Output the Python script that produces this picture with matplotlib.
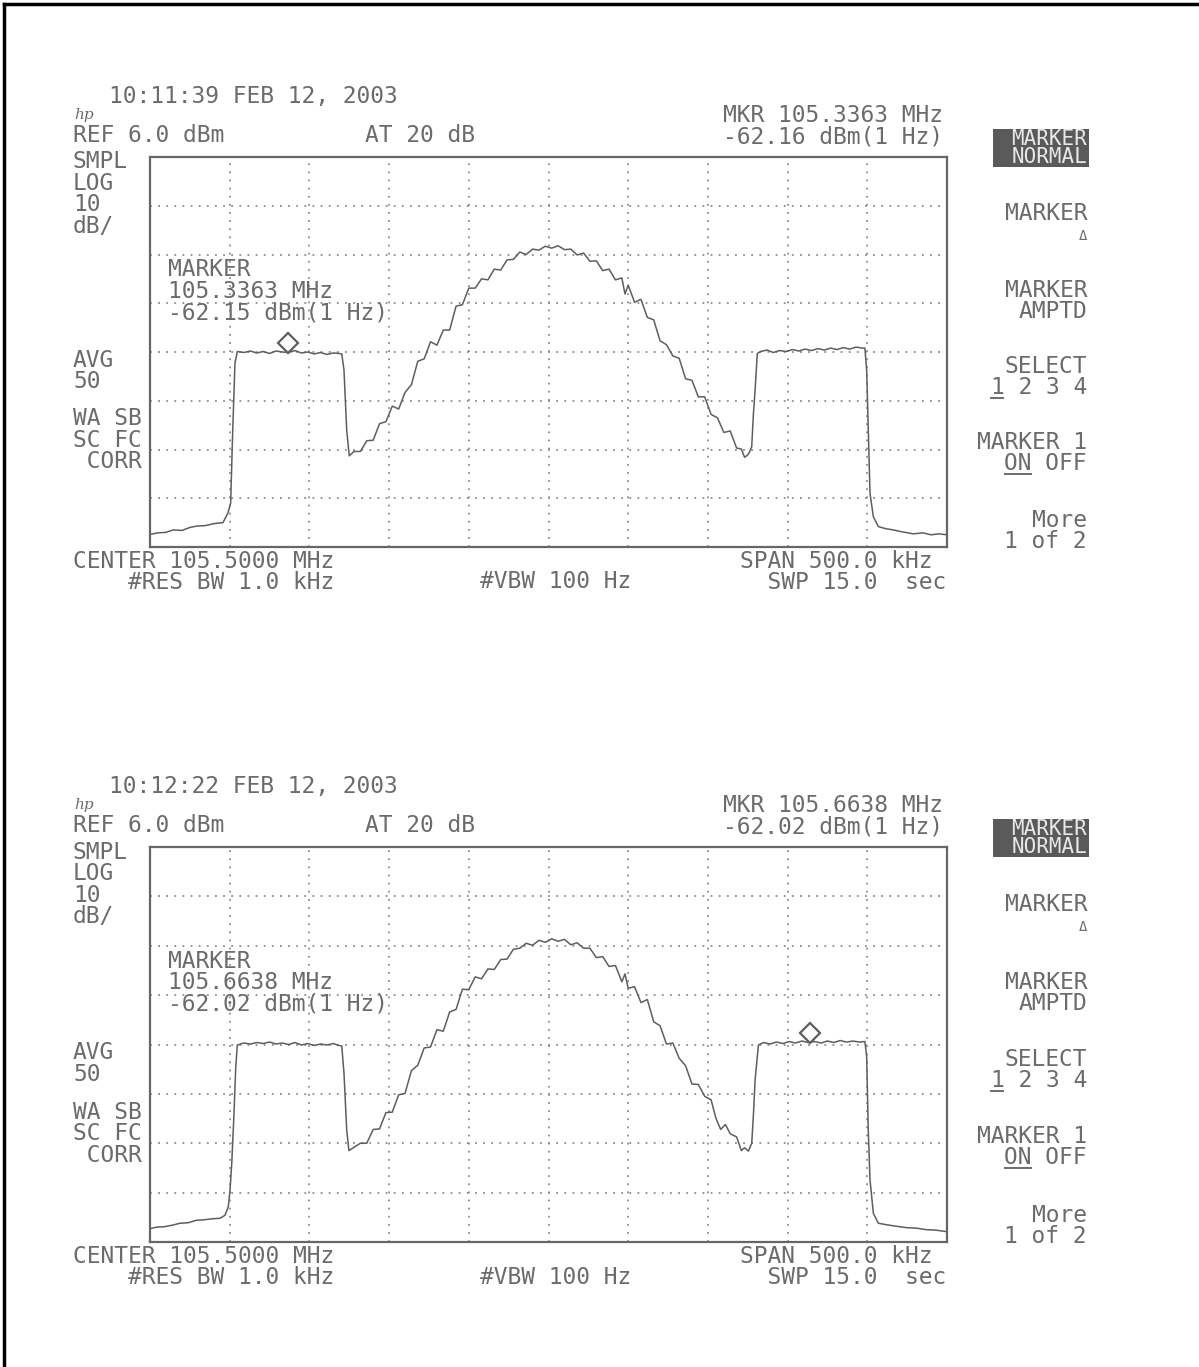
import numpy as np
import matplotlib
matplotlib.use("Agg")
import matplotlib.pyplot as plt
import matplotlib.transforms as mtransforms
from matplotlib.lines import Line2D
from matplotlib.patches import Rectangle

W_PX, H_PX = 1199, 1367

# analyzer settings (same for both screens)
CENTER_MHZ  = 105.5
SPAN_KHZ    = 500.0
REF_DBM     = 6.0
DB_PER_DIV  = 10.0
N_XDIV      = 10
N_YDIV      = 8

# screen 1 : (offset from center in kHz, level in dBm)
TOP_TRACE = [
    (-250, -71.4), (-245, -71.1), (-240, -71.0), (-235.6, -70.5), (-230, -70.6),
    (-225, -70.0), (-220.7, -69.7), (-215, -69.6), (-210, -69.2), (-204.2, -69.0),
    (-201.1, -67.0), (-199.4, -65.0), (-198.1, -50.0), (-196.7, -36.3), (-195.2, -33.9),
    (-191, -34.1), (-187, -33.8), (-183, -34.2), (-179, -33.9), (-175, -34.3),
    (-171, -33.8), (-167, -34.0), (-163, -34.1), (-159, -33.7), (-155, -34.2),
    (-151, -34.0), (-147, -34.4), (-143, -34.1), (-139, -34.5), (-135, -34.2),
    (-131.5, -34.3), (-129.7, -34.4), (-128.3, -37.7), (-126.6, -50.0), (-125.0, -55.3),
    (-122, -54.4), (-118, -54.4), (-114, -52.2), (-110, -52.1), (-106, -48.7),
    (-102, -48.3), (-98, -45.1), (-94, -45.7), (-90, -42.3), (-86, -40.7),
    (-82, -35.9), (-78, -35.4), (-74, -31.9), (-70, -32.6), (-66, -29.5),
    (-62, -29.5), (-58, -24.6), (-54, -24.3), (-50, -20.9), (-46, -20.9),
    (-42, -19.0), (-38, -19.2), (-34, -17.0), (-30, -17.2), (-26, -15.1),
    (-22, -15.0), (-18, -13.5), (-14, -14.0), (-10, -12.9), (-6, -13.1),
    (-2, -12.3), (2, -12.7), (6, -12.2), (10, -13.0), (14, -12.9),
    (18, -14.1), (22, -13.7), (26, -15.4), (30, -15.3), (34, -17.3),
    (38, -17.0), (42, -19.2), (46, -18.8), (48, -22.1), (50, -20.3),
    (54, -23.8), (58, -23.2), (62, -26.9), (66, -27.4), (70, -31.7),
    (74, -32.5), (78, -34.8), (82, -35.3), (86, -39.5), (90, -39.8),
    (94, -43.2), (98, -43.2), (102, -46.8), (106, -47.5), (110, -50.5),
    (114, -50.2), (118, -53.7), (121, -53.9), (123, -55.6), (124.7, -55.2),
    (126.0, -54.6), (127.5, -53.4), (128.5, -47.0), (129.6, -41.8), (131.0, -34.3),
    (133, -33.9), (137, -33.6), (141, -34.1), (145, -33.7), (149, -33.9),
    (153, -33.5), (157, -33.8), (161, -33.4), (165, -33.7), (169, -33.3),
    (173, -33.6), (177, -33.2), (181, -33.5), (185, -33.1), (189, -33.4),
    (193, -33.0), (197, -33.2), (198.5, -33.2), (199.6, -37.7), (200.6, -50.0),
    (201.7, -63.0), (203.8, -67.8), (206.9, -69.8), (211, -70.2), (216.3, -70.5),
    (222, -70.9), (228.9, -71.3), (235, -71.1), (240, -71.5), (245, -71.3),
    (250, -71.5),
]

# screen 2
BOT_TRACE = [
    (-250, -71.3), (-246, -71.0), (-241, -70.9), (-236, -70.6), (-231.2, -70.2),
    (-226, -70.1), (-221, -69.6), (-216, -69.5), (-211, -69.3), (-206.1, -69.2),
    (-203, -68.6), (-200.9, -66.9), (-199.8, -63.5), (-198.7, -58.0), (-197.3, -47.9),
    (-196.2, -38.5), (-195.2, -34.1),
    (-191, -33.7), (-187, -33.9), (-183, -33.6), (-179, -33.8), (-175, -33.5),
    (-171, -33.9), (-167, -33.7), (-163, -34.0), (-159, -33.6), (-155, -34.1),
    (-151, -33.8), (-147, -34.2), (-143, -33.9), (-139, -34.1), (-135, -33.8),
    (-131.5, -34.2), (-129.7, -34.3), (-128.3, -39.8), (-126.6, -51.3), (-125.2, -55.5),
    (-122, -54.8), (-118, -54.0), (-114, -54.0), (-110, -51.2), (-106, -51.1),
    (-102, -47.8), (-98, -47.7), (-94, -44.2), (-90, -43.9), (-86, -39.3),
    (-82, -38.2), (-78, -34.7), (-74, -34.5), (-70, -31.0), (-66, -31.3),
    (-62, -27.4), (-58, -26.9), (-54, -22.8), (-50, -22.9), (-46, -20.3),
    (-42, -20.7), (-38, -18.7), (-34, -18.8), (-30, -16.8), (-26, -16.7),
    (-22, -14.7), (-18, -14.5), (-14, -13.5), (-10, -13.9), (-6, -12.9),
    (-2, -13.3), (2, -12.6), (6, -13.1), (10, -12.7), (14, -13.8),
    (18, -13.4), (22, -14.5), (26, -14.5), (30, -16.4), (34, -16.2),
    (38, -18.2), (42, -18.0), (46, -21.3), (48, -19.7), (50, -22.6),
    (54, -22.3), (58, -25.5), (62, -24.9), (66, -29.4), (70, -30.2),
    (74, -33.9), (78, -33.7), (82, -36.8), (86, -38.3), (90, -42.0),
    (94, -42.1), (98, -44.5), (102, -45.2), (105, -48.9), (108, -51.2),
    (111, -50.2), (114, -52.1), (118, -52.7), (121, -55.5), (123, -54.9),
    (125.4, -55.6), (127.5, -54.0), (128.6, -48.0), (129.6, -41.2), (131.7, -34.1),
    (135, -33.6), (139, -33.9), (143, -33.5), (147, -33.8), (151, -33.4),
    (155, -33.7), (159, -33.3), (163, -33.6), (167, -33.4), (171, -33.7),
    (175, -33.3), (179, -33.6), (183, -33.2), (187, -33.5), (191, -33.3),
    (195, -33.5), (198.5, -33.4), (199.6, -36.5), (200.6, -51.3), (201.7, -61.4),
    (203.8, -68.2), (206.9, -70.2), (212, -70.5), (218, -70.8), (224.7, -71.1),
    (231, -71.2), (237, -71.5), (243, -71.6), (249.8, -71.9),
]

TOP_TIME = "10:11:39 FEB 12, 2003"
BOT_TIME = "10:12:22 FEB 12, 2003"
TOP_MKR_MHZ = 105.3363
BOT_MKR_MHZ = 105.6638
TOP_MKR_HDR, TOP_MKR_IN = "-62.16", "-62.15"
BOT_MKR_HDR, BOT_MKR_IN = "-62.02", "-62.02"

# graticule boxes in pixels (left, top, right, bottom)
TOP_BOX = (150, 157, 947, 547)
BOT_BOX = (150, 847, 947, 1242)

MONO  = "DejaVu Sans Mono"
FS    = 16.5
LS    = 0.92
TXT   = "#6b6b6b"
TRACE = "#5e5e5e"
GRID  = "#8c8c8c"
FRAME = "#666666"
CH    = FS * 100 / 72 * 0.602      # monospace char pitch, px

fig = plt.figure(figsize=(W_PX / 100, H_PX / 100), dpi=100)


def fx(x):
    return x / W_PX


def fy(y):
    return 1 - y / H_PX


def put(x, y, s, ha="left", size=FS, color=TXT, **kw):
    return fig.text(fx(x), fy(y), s, ha=ha, va="center", fontsize=size,
                    family=MONO, color=color, linespacing=LS, **kw)


def hline(xa, xb, y, color=TXT, lw=1.4):
    fig.add_artist(Line2D([fx(xa), fx(xb)], [fy(y), fy(y)],
                          transform=fig.transFigure, color=color, lw=lw))


def draw_screen(trace, box, time_str, mkr_mhz, hdr_lvl, in_lvl):
    x0, y0, x1, y1 = box
    ax = fig.add_axes([fx(x0), fy(y1), (x1 - x0) / W_PX, (y1 - y0) / H_PX])
    f, db = np.array(trace).T
    ax.plot(f, db, color=TRACE, lw=1.1)

    bottom = REF_DBM - N_YDIV * DB_PER_DIV
    ax.set_xlim(-SPAN_KHZ / 2, SPAN_KHZ / 2)
    ax.set_ylim(bottom, REF_DBM)
    ax.set_xticks(np.linspace(-SPAN_KHZ / 2, SPAN_KHZ / 2, N_XDIV + 1)[1:-1])
    ax.set_yticks(np.linspace(bottom, REF_DBM, N_YDIV + 1)[1:-1])
    ax.grid(True, color=GRID, lw=1.3, ls=(0, (1, 3.5)))
    ax.tick_params(length=0, labelbottom=False, labelleft=False)
    for sp in ax.spines.values():
        sp.set_color(FRAME)
        sp.set_linewidth(1.6)

    # marker diamond sits just above the trace
    mkr_khz = (mkr_mhz - CENTER_MHZ) * 1000
    lvl = np.interp(mkr_khz, f, db)
    off = mtransforms.offset_copy(ax.transData, fig=fig, y=9, units="dots")
    ax.plot([mkr_khz], [lvl], marker="D", ms=10, mfc="white", mec=TRACE,
            mew=1.6, transform=off, clip_on=False)

    sc = (y1 - y0) / 390.0

    def ry(r):
        return y0 + r * sc

    # header
    put(253, y0 - 60, time_str, ha="center")
    fig.text(fx(74), fy(y0 - 42), "hp", ha="left", va="center", fontsize=11,
             family="DejaVu Serif", style="italic", color=TXT)
    put(73, y0 - 21, f"REF {REF_DBM:.1f} dBm")
    put(420, y0 - 21, "AT 20 dB", ha="center")
    put(833, y0 - 31, f"MKR {mkr_mhz:.4f} MHz\n{hdr_lvl} dBm(1 Hz)", ha="center")

    # left annotations
    put(73, ry(37), f"SMPL\nLOG\n{DB_PER_DIV:.0f}\ndB/")
    put(x0 + 18, ry(134), f"MARKER\n{mkr_mhz:.4f} MHz\n{in_lvl} dBm(1 Hz)")
    put(73, ry(214), "AVG\n50")
    put(73, ry(283), "WA SB\nSC FC\n CORR")

    # footer
    put(73, y1 + 25, f"CENTER {CENTER_MHZ:.4f} MHz\n    #RES BW 1.0 kHz")
    put(556, y1 + 35, "#VBW 100 Hz", ha="center")
    put(843, y1 + 25, f"SPAN {SPAN_KHZ:.1f} kHz\n  SWP 15.0  sec",
        ha="center", multialignment="left")

    # softkey menu
    fig.add_artist(Rectangle((fx(993), fy(y0 + 10)), 96 / W_PX, 38 / H_PX,
                             transform=fig.transFigure, color="#5a5a5a", lw=0))
    put(1087, y0 - 9, "MARKER\nNORMAL", ha="right", size=15, color="#e8e8e8")
    rx = 1087
    put(rx, ry(57), "MARKER", ha="right")
    put(rx, ry(79), "Δ", ha="right", size=10)
    put(rx, ry(144), "MARKER\nAMPTD", ha="right")
    put(rx, ry(220), "SELECT\n1 2 3 4", ha="right")
    hline(rx - 7 * CH + 1, rx - 6 * CH - 1, ry(241))
    put(rx, ry(296), "MARKER 1\nON OFF", ha="right")
    hline(rx - 6 * CH + 1, rx - 4 * CH - 1, ry(317))
    put(rx, ry(374), "More\n1 of 2", ha="right")


draw_screen(TOP_TRACE, TOP_BOX, TOP_TIME, TOP_MKR_MHZ, TOP_MKR_HDR, TOP_MKR_IN)
draw_screen(BOT_TRACE, BOT_BOX, BOT_TIME, BOT_MKR_MHZ, BOT_MKR_HDR, BOT_MKR_IN)

# page frame (top and left edges)
fig.add_artist(Line2D([fx(4), 1], [fy(4), fy(4)], transform=fig.transFigure,
                      color="black", lw=2.5))
fig.add_artist(Line2D([fx(4), fx(4)], [fy(4), 0], transform=fig.transFigure,
                      color="black", lw=2.5))

fig.savefig("out.png", dpi=100)
